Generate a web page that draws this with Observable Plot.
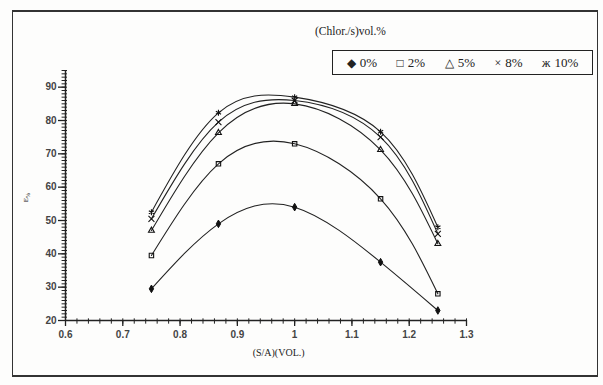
<!DOCTYPE html>
<html>
<head>
<meta charset="utf-8">
<script src="https://cdn.jsdelivr.net/npm/d3@7"></script>
<script src="https://cdn.jsdelivr.net/npm/@observablehq/plot@0.6"></script>
<style>
  body { margin: 0; background: #fff; }
  #wrap { position: relative; width: 603px; height: 385px; overflow: hidden; background: #fdfdfc; }
  #frame { position: absolute; left: 12px; top: 10px; width: 586px; height: 367px; border: 1px solid #333; border-top-width: 2px; border-bottom-width: 2px; box-sizing: border-box; }
  #title { position: absolute; left: 315px; top: 25px; font: 11.5px "Liberation Serif", serif; color: #222; }
  #legend { position: absolute; left: 332px; top: 50px; width: 261px; height: 25px; box-sizing: border-box; border: 1.5px solid #222; font: 13px "Liberation Serif", serif; color: #222; display: flex; align-items: center; justify-content: space-around; padding: 0 4px; }
  #legend .g { font-size: 12px; margin-right: 4px; }
  #ylab { position: absolute; left: 22px; top: 193px; font: 7px "Liberation Serif", serif; transform: rotate(-90deg); color: #222; }
  #chart { position: absolute; left: 0; top: 0; }
</style>
</head>
<body>
<div id="wrap">
  <div id="frame"></div>
  <div id="chart"></div>
  <div id="title">(Chlor./s)vol.%</div>
  <div id="legend"></div>
  <div id="ylab">E<sub>%</sub></div>
</div>
<script>
const xValues = [0.75, 0.867, 1.0, 1.15, 1.25];
const series = ["0%", "2%", "5%", "8%", "10%"];
const e0  = [29.5, 49, 54, 37.5, 23];
const e2  = [39.5, 67, 73, 56.5, 28];
const e5  = [47, 76.3, 85, 71.2, 43];
const e8  = [50.5, 79.5, 86, 75, 46];
const e10 = [52.5, 82.3, 87, 76.6, 48];
const symbols = ["diamond", "square2", "triangle2", "times", "asterisk"];
const legendGlyphs = ["◆", "□", "△", "×", "ж"];
const xTicks = [0.6, 0.7, 0.8, 0.9, 1.0, 1.1, 1.2, 1.3];
const xTickLabels = ["0.6", "0.7", "0.8", "0.9", "1", "1.1", "1.2", "1.3"];
const yTicks = [20, 30, 40, 50, 60, 70, 80, 90];
const xLabel = "(S/A)(VOL.)";

const allSeries = [e0, e2, e5, e8, e10];
const data = [];
series.forEach((s, i) => xValues.forEach((x, j) => data.push({series: s, x, e: allSeries[i][j], sym: symbols[i]})));

const xMinor = d3.range(0, 36).map(i => +(0.6 + i * 0.02).toFixed(2));
const yMinor = d3.range(20, 96, 1);

const chart = Plot.plot({
  width: 603,
  height: 385,
  marginLeft: 65,
  marginRight: 137,
  marginTop: 70,
  marginBottom: 65,
  style: {background: "transparent", fontFamily: "Liberation Sans, sans-serif", fontSize: "10px", color: "#222"},
  x: {domain: [0.6, 1.3]},
  y: {domain: [20, 95]},
  marks: [
    Plot.ruleX(xMinor, {x: d => d, y1: 18.9, y2: 20.5, stroke: "#222", strokeWidth: 1}),
    Plot.ruleY(yMinor, {y: d => d, x1: 0.594, x2: 0.6035, stroke: "#222", strokeWidth: 1}),
    Plot.axisX({ticks: xTicks, tickSize: 6, tickPadding: 4, tickFormat: d => xTickLabels[xTicks.indexOf(d)], label: null, stroke: "#222", strokeWidth: 1.3, fontWeight: "bold", fill: "#444"}),
    Plot.axisY({ticks: yTicks, tickSize: 7, tickPadding: 2, label: null, stroke: "#222", strokeWidth: 1.3, fontWeight: "bold", fill: "#444"}),
    Plot.ruleY([20], {stroke: "#222", strokeWidth: 1.5}),
    Plot.ruleX([0.6], {stroke: "#222", strokeWidth: 1.5}),
    Plot.line(data, {x: "x", y: "e", z: "series", curve: "natural", stroke: "#222", strokeWidth: 1.1}),
    Plot.dot(data.filter(d => d.series === "0%"), {x: "x", y: "e", symbol: "sym", r: 2.3, stroke: "#111", strokeWidth: 1, fill: "#111"}),
    Plot.dot(data.filter(d => d.series !== "0%"), {x: "x", y: "e", symbol: "sym", r: 2.8, stroke: "#111", strokeWidth: 1.1, fill: "none"}),
    Plot.text([xLabel], {frameAnchor: "bottom", x: 0.972, dy: 35, fontFamily: "Liberation Serif, serif", fontSize: 10, fill: "#222"})
  ]
});
document.getElementById("chart").appendChild(chart);

const legend = document.getElementById("legend");
series.forEach((s, i) => {
  const span = document.createElement("span");
  const g = document.createElement("span");
  g.className = "g";
  g.textContent = legendGlyphs[i];
  span.appendChild(g);
  span.appendChild(document.createTextNode(s));
  legend.appendChild(span);
});
</script>
</body>
</html>
